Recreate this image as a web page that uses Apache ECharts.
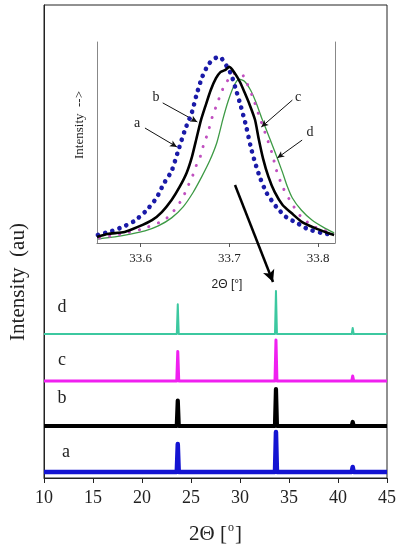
<!DOCTYPE html>
<html>
<head>
<meta charset="utf-8">
<script src="https://cdn.jsdelivr.net/npm/echarts@6/dist/echarts.min.js"></script>
<style>html,body{margin:0;padding:0;background:#fff}#c{width:399px;height:550px}</style>
</head>
<body>
<div id="c"></div>
<script>
// ---- Main XRD patterns (x = 2Theta in degrees, y = stacked intensity, a.u.) ----
const mainTicks = [10, 15, 20, 25, 30, 35, 40, 45];
const traceA = [[10,6],[16.6,6],[16.7,8],[16.8,6],[23.55,6],[23.65,34],[23.75,6],[28.9,6],[29.0,7.5],[29.1,6],[33.57,6],[33.67,46],[33.77,6],[37.55,6],[37.65,7.5],[37.75,6],[41.4,6],[41.5,11],[41.6,6],[45,6]];
const traceB = [[10,52],[16.6,52],[16.7,53.5],[16.8,52],[23.55,52],[23.65,77.5],[23.75,52],[28.9,52],[29.0,53.5],[29.1,52],[33.57,52],[33.67,89],[33.77,52],[37.55,52],[37.65,53],[37.75,52],[41.4,52],[41.5,56],[41.6,52],[45,52]];
const traceC = [[10,97],[16.6,97],[16.7,98.5],[16.8,97],[23.55,97],[23.65,126.5],[23.75,97],[28.9,97],[29.0,98],[29.1,97],[33.57,97],[33.67,138],[33.77,97],[37.55,97],[37.65,98],[37.75,97],[41.4,97],[41.5,102],[41.6,97],[45,97]];
const traceD = [[10,144],[16.6,144],[16.7,145.5],[16.8,144],[23.55,144],[23.65,173.7],[23.75,144],[28.9,144],[29.0,145],[29.1,144],[33.57,144],[33.67,187],[33.77,144],[37.55,144],[37.65,145],[37.75,144],[41.4,144],[41.5,150],[41.6,144],[45,144]];

// ---- Inset: zoom on the 33.7 degree reflection ----
const insetTicks = [33.6, 33.7, 33.8];
const insetA = [[33.552,4.0],[33.568,6.0],[33.580,8.0],[33.593,10.9],[33.606,15.9],[33.618,22.4],[33.626,29.4],[33.635,35.8],[33.642,45.3],[33.650,56.2],[33.658,65.2],[33.663,73.6],[33.669,82.1],[33.676,88.6],[33.681,91.0],[33.687,92.5],[33.691,92.0],[33.697,88],[33.702,84],[33.707,77],[33.713,68],[33.719,58],[33.724,48],[33.729,40],[33.735,32],[33.742,24.9],[33.753,17.9],[33.764,12.9],[33.776,10.0],[33.788,7.0],[33.804,5.0],[33.818,4.0]];
const insetB = [[33.551,3.0],[33.563,4.5],[33.582,5.5],[33.597,8.0],[33.613,11.4],[33.624,15.4],[33.635,21.4],[33.644,27.9],[33.652,35],[33.658,43],[33.663,52],[33.668,61],[33.673,68],[33.679,76],[33.685,82],[33.690,85],[33.695,86],[33.700,87.6],[33.706,84.6],[33.712,80.1],[33.717,75.1],[33.723,68.7],[33.729,61.2],[33.733,52],[33.738,42],[33.744,33],[33.751,25.4],[33.760,18.9],[33.770,14.9],[33.782,10.4],[33.796,7.5],[33.811,5.0],[33.818,4.0]];
const insetC = [[33.554,2.5],[33.579,4.5],[33.602,7.0],[33.622,10.4],[33.631,12.9],[33.641,17.9],[33.648,22.9],[33.653,27.9],[33.659,33.8],[33.663,38.8],[33.668,43.8],[33.671,48.8],[33.676,55],[33.681,63],[33.687,70],[33.691,75.1],[33.697,80.1],[33.704,84],[33.710,85],[33.716,83],[33.726,73],[33.734,62.7],[33.742,52.7],[33.748,44.8],[33.753,36.3],[33.760,27.9],[33.770,19.9],[33.781,12.9],[33.796,8.0],[33.816,5.0]];
const insetD = [[33.552,2.0],[33.571,3.0],[33.590,4.5],[33.605,6.0],[33.620,8.5],[33.635,12.5],[33.648,18],[33.659,25],[33.669,33],[33.678,41],[33.686,50],[33.693,62],[33.699,71],[33.705,78],[33.711,81.5],[33.717,80.5],[33.724,76],[33.730,70],[33.736,62.7],[33.742,56],[33.749,48],[33.755,41],[33.760,35],[33.765,28.5],[33.771,22.4],[33.781,16.4],[33.793,11.4],[33.807,7.5],[33.818,5.0]];

// annotation arrows (data coordinates)
const insetArrows = [
  [[33.605,57.2],[33.641,47.8]],
  [[33.625,69.7],[33.664,60.2]],
  [[33.771,71.1],[33.736,57.7]],
  [[33.782,51.2],[33.754,42.3]]
];
const bigArrow = [[29.49,293],[33.37,196]];

const serif = 'Liberation Serif';
const chart = echarts.init(document.getElementById('c'), null, {renderer:'canvas'});

function mainSeries(data, color, width, extra) {
  return Object.assign({type:'line', xAxisIndex:0, yAxisIndex:0, data:data, symbol:'none', smooth:false,
    lineStyle:{color:color, width:width, join:'round'}, z:3}, extra || {});
}

chart.setOption({
  animation:false,
  backgroundColor:'#fff',
  grid:[
    {left:44, top:5, width:343, height:473, show:true, borderColor:'#222', borderWidth:1, backgroundColor:'transparent'},
    {left:97, top:42, width:238, height:201}
  ],
  xAxis:[
    {gridIndex:0, type:'value', min:10, max:45, interval:5,
     axisLine:{lineStyle:{color:'#222', width:1}},
     axisTick:{length:5, lineStyle:{color:'#222'}},
     axisLabel:{fontFamily:serif, fontSize:18, color:'#222', margin:11},
     splitLine:{show:false},
     name:'2Θ [{sup|o}]', nameLocation:'middle', nameGap:44,
     nameTextStyle:{fontFamily:serif, fontSize:21, color:'#222',
       rich:{sup:{fontFamily:serif, fontSize:12, color:'#222', padding:[0,1,12,1]}}}},
    {gridIndex:1, type:'value', min:33.551, max:33.819,
     axisLine:{lineStyle:{color:'#777', width:1}},
     axisTick:{length:4, customValues:insetTicks, lineStyle:{color:'#555'}},
     axisLabel:{customValues:insetTicks, formatter:function(v){return v.toFixed(1);}, fontFamily:serif, fontSize:13, color:'#222', margin:9},
     splitLine:{show:false}}
  ],
  yAxis:[
    {gridIndex:0, type:'value', min:0, max:473, axisLine:{show:true, lineStyle:{color:'#222'}}, axisTick:{show:false}, axisLabel:{show:false}, splitLine:{show:false}},
    {gridIndex:1, type:'value', min:0, max:100, axisLine:{show:true, lineStyle:{color:'#888'}}, axisTick:{show:false}, axisLabel:{show:false}, splitLine:{show:false}},
    {gridIndex:1, type:'value', min:0, max:100, position:'right', axisLine:{show:true, lineStyle:{color:'#888'}}, axisTick:{show:false}, axisLabel:{show:false}, splitLine:{show:false}}
  ],
  series:[
    mainSeries(traceA, '#1414d2', 4.5),
    mainSeries(traceB, '#000000', 4.2),
    mainSeries(traceC, '#f020f0', 3),
    mainSeries(traceD, '#3cc8a0', 2, {
      markLine:{silent:true, symbol:['none','arrow'], symbolSize:[9,12], label:{show:false},
        lineStyle:{type:'solid', color:'#000', width:2.5},
        data:[[{coord:bigArrow[0]},{coord:bigArrow[1]}]]}
    }),
    {type:'line', xAxisIndex:1, yAxisIndex:1, data:insetD, symbol:'none', smooth:0.2,
     lineStyle:{color:'#3d9a45', width:1.3}, z:4},
    {type:'line', xAxisIndex:1, yAxisIndex:1, data:insetC, symbol:'none', smooth:0.2,
     lineStyle:{color:'#c050c0', width:3, type:[0.1,10], cap:'round'}, z:4},
    {type:'line', xAxisIndex:1, yAxisIndex:1, data:insetA, symbol:'none', smooth:0.2,
     lineStyle:{color:'#1a1aa8', width:4.6, type:[0.1,7.4], cap:'round'}, z:5},
    {type:'line', xAxisIndex:1, yAxisIndex:1, data:insetB, symbol:'none', smooth:0.2,
     lineStyle:{color:'#000', width:2.6, join:'round'}, z:6,
     markLine:{silent:true, symbol:['none','arrow'], symbolSize:[5,7], label:{show:false},
       lineStyle:{type:'solid', color:'#111', width:1},
       data:insetArrows.map(function(p){return [{coord:p[0]},{coord:p[1]}];})}}
  ],
  graphic:[
    {type:'text', x:18, y:282, rotation:Math.PI/2, style:{text:'Intensity  (au)', font:'21px "Liberation Serif"', fill:'#222', align:'center', verticalAlign:'middle'}},
    {type:'text', x:80, y:125, rotation:Math.PI/2, style:{text:'Intensity  -->', font:'13px "Liberation Serif"', fill:'#222', align:'center', verticalAlign:'middle'}},
    {type:'text', x:227, y:285, style:{text:'2Θ [°]', font:'12px "Liberation Sans"', fill:'#222', align:'center', verticalAlign:'middle'}},
    {type:'text', x:66, y:452, style:{text:'a', font:'18px "Liberation Serif"', fill:'#222', align:'center', verticalAlign:'middle'}},
    {type:'text', x:62, y:398, style:{text:'b', font:'18px "Liberation Serif"', fill:'#222', align:'center', verticalAlign:'middle'}},
    {type:'text', x:62, y:360, style:{text:'c', font:'18px "Liberation Serif"', fill:'#222', align:'center', verticalAlign:'middle'}},
    {type:'text', x:62, y:307, style:{text:'d', font:'18px "Liberation Serif"', fill:'#222', align:'center', verticalAlign:'middle'}},
    {type:'text', x:137, y:123, style:{text:'a', font:'14px "Liberation Serif"', fill:'#222', align:'center', verticalAlign:'middle'}},
    {type:'text', x:156, y:97, style:{text:'b', font:'14px "Liberation Serif"', fill:'#222', align:'center', verticalAlign:'middle'}},
    {type:'text', x:298, y:97, style:{text:'c', font:'14px "Liberation Serif"', fill:'#222', align:'center', verticalAlign:'middle'}},
    {type:'text', x:310, y:132, style:{text:'d', font:'14px "Liberation Serif"', fill:'#222', align:'center', verticalAlign:'middle'}}
  ]
});
</script>
</body>
</html>
